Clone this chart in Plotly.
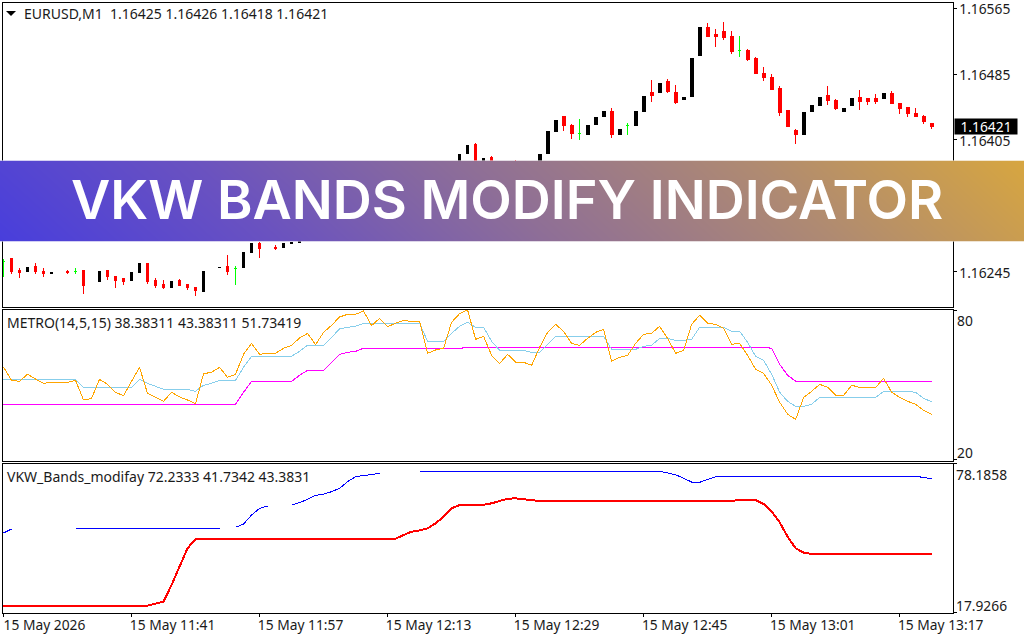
import plotly.graph_objects as go

# Minute index of each bar on the chart (bar 0 = 15 May 2026 11:25)
bars = list(range(117))

# EURUSD M1 prices, in points above 1.16000. None = no bar drawn.
opens = [258,261,247,246,252,246,243,None,246,246,247,None,233,247,240,237,235,244,255,235,230,226,235,230,226,221,None,250,252,249,250,268,280,None,275,275,280,
 281,283,290,297,292,300,306,304,312,320,315,325,333,330,340,348,345,355,362,366,372,389,400,375,384,365,372,372,368,372,370,389,415,433,423,413,412,424,434,439,412,422,422,439,462,463,476,463,454,458,507,541,533,536,531,514,513,504,486,481,468,441,417,412,440,447,459,453,439,447,456,455,455,455,461,449,444,437,433,425]
highs = [261,261,250,251,256,250,244,None,247,250,247,None,245,247,240,237,244,255,256,238,235,233,237,230,227,246,None,251,266,252,268,279,281,None,278,279,281,
 282,290,297,299,300,306,308,312,320,322,328,333,336,342,348,350,355,362,366,372,387,398,401,383,386,372,374,381,374,376,388,415,429,434,424,430,422,432,439,444,418,426,440,458,478,474,479,472,456,504,541,547,540,548,537,531,515,506,493,485,470,441,418,438,447,457,470,455,443,455,466,455,461,461,464,450,445,444,435,426]
lows = [239,243,238,246,243,239,243,None,243,243,218,None,233,235,226,229,235,244,230,226,224,226,229,223,216,221,None,250,241,229,250,268,262,None,272,275,280,
 280,283,290,290,292,300,304,304,312,315,315,325,328,330,340,345,345,355,362,366,372,389,372,375,372,365,366,368,368,372,370,389,415,416,406,405,412,424,434,407,412,411,422,439,451,463,462,449,454,458,507,531,518,526,509,506,501,486,477,466,434,421,400,412,440,447,447,441,439,447,441,447,449,455,449,437,433,433,424,418]
closes = [258,245,244,251,246,243,244,None,244,246,229,None,245,240,235,233,244,255,233,229,226,233,229,226,223,246,None,251,245,249,268,279,273,None,273,279,281,
 282,290,297,292,300,306,304,312,320,315,325,333,330,340,348,345,355,362,366,372,387,398,372,383,372,372,366,368,374,376,388,415,429,423,413,413,422,432,439,412,418,422,440,458,459,474,464,451,456,504,541,531,531,529,512,514,502,486,481,466,438,421,412,438,447,457,453,443,443,455,452,452,452,461,449,443,437,433,427,421]

# METRO(14,5,15) sub-window
metro_fast = [57.45,52.08,51.68,54.50,52.62,50.87,51.27,51.27,51.27,52.08,44.16,44.70,52.48,50.47,47.25,45.90,51.54,57.32,46.84,45.23,43.62,47.25,45.37,44.16,42.68,54.76,55.30,57.32,53.29,54.50,62.55,66.98,62.55,62.95,62.95,64.97,66.18,69.13,71.01,66.44,71.41,74.23,77.59,78.66,78.66,80.00,74.10,77.05,73.69,75.04,76.24,75.71,75.84,62.95,64.30,64.97,75.44,78.93,80.41,68.59,69.80,62.15,58.79,62.55,59.33,59.33,58.12,65.37,71.41,74.63,71.81,66.98,66.18,68.99,71.41,72.62,59.73,61.34,62.15,66.98,70.61,71.01,73.83,68.99,62.95,64.16,74.63,78.26,75.04,74.63,73.02,66.58,66.98,62.15,56.51,54.90,50.07,43.22,38.39,36.37,45.23,47.65,50.47,49.26,46.04,46.04,50.07,49.26,49.26,49.26,52.88,47.25,45.23,43.62,42.41,40.00,38.38]
metro_slow = [52.48,52.48,52.48,52.48,52.48,52.48,52.48,52.48,52.48,52.48,49.26,49.26,49.26,49.26,49.26,49.26,49.26,52.48,50.87,49.66,48.45,48.45,48.45,48.45,47.65,50.07,50.87,52.08,52.08,52.08,57.32,61.75,61.75,61.75,61.75,61.75,61.75,63.76,66.18,66.18,66.18,69.40,72.75,73.43,73.83,75.04,75.04,75.04,75.04,75.04,75.04,75.04,75.04,67.79,67.79,67.79,71.01,73.83,75.44,73.43,73.43,67.79,64.16,64.16,64.16,64.16,63.36,63.36,66.58,69.80,69.80,69.80,69.80,69.80,69.80,69.80,64.56,64.56,64.56,64.56,65.77,66.18,68.99,68.99,68.19,68.19,68.59,73.43,73.43,73.43,73.43,71.81,71.81,67.38,61.75,60.13,54.50,47.25,43.62,41.61,41.61,42.41,45.23,45.23,45.23,45.23,45.23,45.23,45.23,45.23,47.65,47.65,47.65,47.65,47.25,44.83,43.38]
metro_stepped = [42.41]*30 + [47.25] + [51.68]*6 + [54.09,56.11,56.11,56.11,59.33,62.55,63.36,63.76] + [64.97]*13 + [65.37]*38 + [64.97,58.52,54.09] + [51.73]*18

# VKW_Bands_modifay sub-window
vkw_upper = [50.16,51.78,None,None,None,None,None,None,None,52.05,52.05,52.05,52.05,52.05,52.05,52.05,52.05,52.05,52.05,52.05,52.05,52.05,52.05,52.05,52.05,52.05,52.05,52.05,None,52.45,53.80,57.44,60.14,61.08,None,None,61.48,62.43,63.77,65.39,65.93,66.87,68.22,70.92,72.94,73.48,74.02,74.29,None,None,None,None,74.83,74.83,74.83,74.83,74.83,74.83,74.96,74.96,75.10,75.10,75.10,75.10,75.10,75.10,75.10,75.10,75.10,75.10,75.10,75.10,75.10,75.10,75.10,75.10,75.10,75.10,75.10,75.10,75.10,75.10,75.10,74.42,73.75,72.27,70.78,70.65,71.86,72.94,73.21,73.21,73.21,73.21,73.21,73.21,73.21,73.21,73.21,73.21,73.21,73.21,73.21,73.21,73.21,73.21,73.21,73.21,73.21,73.21,73.21,73.21,73.21,73.21,73.21,72.54,72.23]
vkw_lower = [20.78]*19 + [21.59,22.39,29.13,36.55,43.96,47.74] + [47.87]*25 + [49.35,50.70,51.24,52.05,54.07,56.77,60.14,61.48,61.62,61.62,61.62,62.16,63.24,64.04,64.18,63.77,63.51] + [63.10]*25 + [63.64,63.64,63.51,61.89,58.79,54.47,48.68,43.96,42.21] + [41.73]*16

# Axis labels
time_ticks = [0,16,32,48,64,80,96,112]
time_labels = ["15 May 2026","15 May 11:41","15 May 11:57","15 May 12:13","15 May 12:29","15 May 12:45","15 May 13:01","15 May 13:17"]
price_ticks = [1.16565,1.16485,1.16405,1.16325,1.16245]

FONT = "Noto Sans"
TXT = "#1a1a1a"
W, H = 1024, 640
def px_x(v): return v / W
def px_y(v): return 1 - v / H

BASE = 1.16
def price(v): return None if v is None else BASE + v * 1e-5
up, down, flat = [], [], []
for i in bars:
    if opens[i] is None:
        continue
    if opens[i] == closes[i]:
        flat.append(i)
    elif closes[i] > opens[i]:
        up.append(i)
    else:
        down.append(i)

fig = go.Figure()
for idx, col in ((up, "#000000"), (down, "#ff0000"), (flat, "#00ff00")):
    fig.add_trace(go.Candlestick(
        x=idx,
        open=[price(opens[i]) for i in idx],
        high=[price(highs[i]) for i in idx],
        low=[price(lows[i]) for i in idx],
        close=[price(closes[i]) for i in idx],
        increasing=dict(line=dict(color=col, width=1), fillcolor=col),
        decreasing=dict(line=dict(color=col, width=1), fillcolor=col),
        whiskerwidth=0, showlegend=False, xaxis="x", yaxis="y", hoverinfo="skip"))

for ys, col, w in ((metro_stepped, "#ff00ff", 1.1), (metro_slow, "#87ceeb", 1), (metro_fast, "#ffa500", 1)):
    fig.add_trace(go.Scatter(x=bars, y=ys, mode="lines", line=dict(color=col, width=w, shape="linear"),
                             showlegend=False, xaxis="x2", yaxis="y2", hoverinfo="skip"))
fig.add_trace(go.Scatter(x=bars, y=vkw_upper, mode="lines", line=dict(color="#0000ff", width=1),
                         connectgaps=False, showlegend=False, xaxis="x3", yaxis="y3", hoverinfo="skip"))
fig.add_trace(go.Scatter(x=bars, y=vkw_lower, mode="lines", line=dict(color="#ff0000", width=2),
                         showlegend=False, xaxis="x3", yaxis="y3", hoverinfo="skip"))

# Banner gradient (two-by-two colour field, smoothed)
fig.add_trace(go.Heatmap(x=[0,1], y=[0,1], z=[[0.0,0.92],[0.08,1.0]], zsmooth="best", zmin=0, zmax=1,
                         colorscale=[[0,"#483edc"],[0.25,"#6a52c0"],[0.5,"#8f6f96"],[0.75,"#af8a72"],[1,"#d7a640"]],
                         showscale=False, xaxis="x4", yaxis="y4", hoverinfo="skip"))

xdom = [px_x(3), px_x(952.5)]
xrange = [-0.06, 118.6]
common_x = dict(range=xrange, domain=xdom, showgrid=False, zeroline=False, showline=True, linecolor="#000000",
                linewidth=1, mirror=True, fixedrange=True)
common_y = dict(side="right", showgrid=False, zeroline=False, showline=True, linecolor="#000000", linewidth=1,
                mirror=True, fixedrange=True)
tickfont = dict(family=FONT, size=13.8, color=TXT)

ann = []
def note(text, x, y, size=13.8):
    ann.append(dict(text=text, x=px_x(x), y=px_y(y), xref="paper", yref="paper", xanchor="left", yanchor="middle",
                    showarrow=False, font=dict(family=FONT, size=size, color=TXT)))

note("EURUSD,M1  1.16425 1.16426 1.16418 1.16421", 22, 14, 14)
note("METRO(14,5,15) 38.38311 43.38311 51.73419", 5, 322, 14)
note("VKW_Bands_modifay 72.2333 41.7342 43.3831", 5, 476, 14)
note("80", 955, 320)
note("20", 955, 452)
note("78.1858", 954, 474)
note("17.9266", 954, 605)
ann.append(dict(text="1.16421", x=px_x(953.5), y=1.16421, xref="paper", yref="y", xanchor="left", yanchor="middle",
                showarrow=False, bgcolor="#000000", width=60, height=13, align="center", borderpad=1,
                font=dict(family=FONT, size=13.8, color="#ffffff")))
ann.append(dict(text="VKW BANDS MODIFY INDICATOR", x=px_x(507), y=px_y(199), xref="paper", yref="paper",
                xanchor="center", yanchor="middle", showarrow=False,
                font=dict(family="Inter", size=54, color="#ffffff", weight=600)))

# Small menu triangle beside the symbol name
tri = f"M {px_x(6)},{px_y(11)} L {px_x(16)},{px_y(11)} L {px_x(11)},{px_y(16)} Z"

fig.update_layout(
    width=W, height=H, margin=dict(l=0, r=0, t=0, b=0, autoexpand=False), paper_bgcolor="#ffffff", plot_bgcolor="#ffffff",
    boxgap=0.5, showlegend=False, annotations=ann, font=dict(family=FONT, color=TXT),
    shapes=[dict(type="path", path=tri, xref="paper", yref="paper", fillcolor="#000000", line=dict(width=0))],
    xaxis=dict(common_x, anchor="y", showticklabels=False, ticks="", rangeslider=dict(visible=False)),
    yaxis=dict(common_y, anchor="x", domain=[px_y(306.6), px_y(2.5)], range=[1.16203, 1.165717], tickmode="array",
               tickvals=price_ticks, ticktext=[f"{v:.5f}" for v in price_ticks], ticks="outside", ticklen=3,
               tickcolor="#000000", tickfont=tickfont, ticklabeloverflow="allow", ticklabelshift=1),
    xaxis2=dict(common_x, anchor="y2", showticklabels=False, ticks=""),
    yaxis2=dict(common_y, anchor="x2", domain=[px_y(460.5), px_y(310)], range=[19.79, 80.40], tickmode="array",
                tickvals=[80, 20], ticktext=["", ""], ticks="outside", ticklen=3, tickcolor="#000000"),
    xaxis3=dict(common_x, anchor="y3", tickmode="array", tickvals=time_ticks, ticktext=time_labels, ticks="outside",
                ticklen=3, tickcolor="#000000", tickfont=tickfont, ticklabelshift=41, tickangle=0,
                ticklabeloverflow="allow", ticklabelstandoff=-3),
    yaxis3=dict(common_y, anchor="x3", domain=[px_y(612.8), px_y(463.5)], range=[17.90, 78.27], tickmode="array",
                tickvals=[78.1858, 17.9266], ticktext=["", ""], ticks="outside", ticklen=3, tickcolor="#000000"),
    xaxis4=dict(domain=[0, 1], range=[0, 1], anchor="y4", visible=False, fixedrange=True),
    yaxis4=dict(domain=[px_y(241.5), px_y(160.5)], range=[0, 1], anchor="x4", visible=False, fixedrange=True),
)

crisp = ("document.body.style.margin='0';"
         "var s=document.createElement('style');"
         "s.textContent='.cartesianlayer path{shape-rendering:crispEdges}';"
         "document.head.appendChild(s);")
fig.write_html("out.html", config=dict(displayModeBar=False), post_script=crisp)
